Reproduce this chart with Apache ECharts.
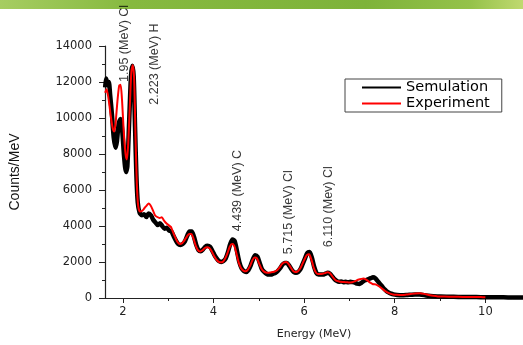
<!DOCTYPE html>
<html>
<head>
<meta charset="utf-8">
<script src="https://cdn.jsdelivr.net/npm/echarts@6/dist/echarts.min.js"></script>
<style>
  html, body { margin: 0; padding: 0; background: #fff; }
  #main { width: 523px; height: 345px; }
</style>
</head>
<body>
<div id="main"></div>
<script>
// simulation spectrum (black)
var simE = [1.61, 1.63, 1.66, 1.69, 1.72, 1.76, 1.80, 1.84, 1.87, 1.91, 1.95, 1.99, 2.03, 2.07, 2.10, 2.14, 2.18, 2.21, 2.24, 2.27, 2.30, 2.33, 2.37,
  2.42, 2.47, 2.52, 2.57, 2.62, 2.67, 2.72, 2.77, 2.82, 2.87, 2.92, 2.97, 3.02, 3.07, 3.12, 3.17, 3.22, 3.27, 3.32, 3.37, 3.42, 3.47,
  3.52, 3.57, 3.62, 3.67, 3.72, 3.77, 3.82, 3.87, 3.92, 3.97, 4.02, 4.07, 4.12, 4.17, 4.22, 4.27, 4.32, 4.37, 4.42, 4.47, 4.52, 4.57,
  4.62, 4.67, 4.72, 4.77, 4.82, 4.87, 4.92, 4.97, 5.02, 5.07, 5.12, 5.17, 5.22, 5.27, 5.32, 5.37, 5.42, 5.47, 5.52, 5.57, 5.62, 5.67,
  5.72, 5.77, 5.82, 5.87, 5.92, 5.97, 6.02, 6.07, 6.12, 6.17, 6.22, 6.27, 6.32, 6.37, 6.42, 6.47, 6.52, 6.57, 6.62, 6.67, 6.72, 6.77,
  6.82, 6.87, 6.92, 6.97, 7.02, 7.07, 7.12, 7.17, 7.22, 7.27, 7.32, 7.37, 7.42, 7.47, 7.52, 7.57, 7.62, 7.67, 7.72, 7.77, 7.82, 7.87,
  7.92, 7.97, 8.05, 8.15, 8.25, 8.35, 8.45, 8.55, 8.65, 8.75, 8.85, 9.0, 9.2, 9.4, 9.6, 9.8, 10.0, 10.2, 10.4, 10.6, 10.8, 10.9];
var simC = [11700, 12200, 11900, 12000, 11300, 10200, 8900, 8350, 8700, 9700, 9950, 9200, 7800, 7000, 7300, 9800, 12300, 12900, 12300, 9500, 6800, 5300, 4750,
  4600, 4650, 4500, 4700, 4600, 4350, 4200, 4050, 4150, 4000, 3850, 3900, 3750, 3700, 3450, 3200, 3000, 2950, 3000, 3150, 3450, 3700,
  3700, 3400, 2950, 2650, 2600, 2700, 2850, 2900, 2850, 2650, 2400, 2200, 2050, 2000, 2050, 2200, 2550, 3000, 3250, 3150, 2600, 2000,
  1650, 1500, 1450, 1550, 1800, 2150, 2380, 2300, 1950, 1600, 1450, 1350, 1300, 1300, 1350, 1400, 1500, 1650, 1850, 1950, 1950, 1800,
  1600, 1450, 1400, 1450, 1600, 1900, 2200, 2500, 2550, 2250, 1750, 1400, 1300, 1300, 1300, 1350, 1400, 1350, 1200, 1050, 950, 900,
  920, 880, 900, 870, 900, 880, 850, 800, 780, 850, 950, 1000, 1050, 1100, 1150, 1100, 950, 800, 650, 500, 380, 300,
  240, 200, 170, 150, 160, 180, 200, 190, 160, 120, 100, 80, 70, 60, 55, 50, 45, 40, 35, 30, 25, 25];

// experiment spectrum (red)
var expE = [1.61, 1.64, 1.67, 1.70, 1.74, 1.78, 1.81, 1.84, 1.88, 1.92, 1.95, 1.98, 2.02, 2.06, 2.09, 2.12, 2.16, 2.19, 2.22, 2.25, 2.28, 2.31, 2.34, 2.38,
  2.43, 2.48, 2.53, 2.57, 2.61, 2.66, 2.71, 2.76, 2.81, 2.86, 2.91, 2.96, 3.01, 3.06, 3.11, 3.16, 3.21, 3.26, 3.31, 3.36, 3.41, 3.46,
  3.51, 3.56, 3.61, 3.66, 3.71, 3.76, 3.81, 3.86, 3.91, 3.96, 4.01, 4.06, 4.11, 4.16, 4.21, 4.26, 4.31, 4.36, 4.41, 4.46, 4.51, 4.56,
  4.61, 4.66, 4.71, 4.76, 4.81, 4.86, 4.91, 4.96, 5.01, 5.06, 5.11, 5.16, 5.21, 5.26, 5.31, 5.36, 5.41, 5.46, 5.51, 5.56, 5.61, 5.66,
  5.71, 5.76, 5.81, 5.86, 5.91, 5.96, 6.01, 6.06, 6.11, 6.16, 6.21, 6.26, 6.31, 6.36, 6.41, 6.46, 6.51, 6.56, 6.61, 6.66, 6.71, 6.76,
  6.81, 6.86, 6.91, 6.96, 7.01, 7.06, 7.11, 7.16, 7.21, 7.26, 7.31, 7.36, 7.41, 7.46, 7.51, 7.56, 7.61, 7.66, 7.71, 7.76, 7.81, 7.86,
  7.91, 7.96, 8.05, 8.15, 8.25, 8.35, 8.45, 8.55, 8.65, 8.75, 8.85, 8.95, 9.1, 9.3, 9.5, 9.7, 9.9, 10.0];
var expC = [11400, 11600, 11300, 10800, 10000, 9400, 9250, 9700, 10900, 11800, 11850, 11100, 9300, 8000, 7700, 8600, 11000, 12600, 12950, 12200, 9000, 6300, 5100, 4800,
  4850, 5000, 5150, 5250, 5150, 4900, 4600, 4500, 4450, 4480, 4300, 4150, 4050, 3950, 3650, 3350, 3100, 3000, 3050, 3200, 3400, 3550,
  3550, 3300, 2900, 2650, 2580, 2650, 2780, 2820, 2780, 2600, 2350, 2150, 2020, 1980, 2020, 2200, 2500, 2850, 3000, 2900, 2450, 1950,
  1650, 1520, 1480, 1580, 1800, 2100, 2250, 2200, 1900, 1620, 1480, 1420, 1400, 1420, 1440, 1480, 1560, 1700, 1880, 1980, 2000, 1880,
  1680, 1500, 1440, 1480, 1620, 1880, 2150, 2380, 2430, 2150, 1700, 1420, 1330, 1330, 1350, 1380, 1430, 1400, 1250, 1080, 960, 930,
  900, 890, 880, 870, 860, 880, 920, 980, 1030, 1060, 1080, 1040, 950, 850, 780, 760, 720, 640, 540, 440, 350, 280,
  230, 200, 180, 170, 190, 220, 250, 260, 230, 170, 120, 90, 80, 70, 60, 55, 50, 45];

// peak annotations (anchor = bottom of the rotated text)
var annoText = ["1.95 (MeV) Cl", "2.223 (MeV) H", "4.439 (MeV) C", "5.715 (MeV) Cl", "6.110 (Mev) Cl"];
var annoE = [2.04, 2.70, 4.53, 5.65, 6.54];
var annoC = [12000, 10740, 3710, 2435, 2820];

var xLabels = [2, 4, 6, 8, 10];
var xMinor = [3, 5, 7, 9];

function pairs(xs, ys) {
  var out = [];
  for (var i = 0; i < xs.length; i++) out.push([xs[i], ys[i]]);
  return out;
}

var annoData = [];
for (var i = 0; i < annoText.length; i++) {
  annoData.push({ name: annoText[i], value: [annoE[i], annoC[i]] });
}

var myChart = echarts.init(document.getElementById("main"));
var tickFont = "DejaVu Sans";
var option = {
  animation: false,
  backgroundColor: "#fff",
  graphic: [
    {
      type: "rect",
      left: 0,
      top: 0,
      shape: { width: 523, height: 9 },
      style: {
        fill: new echarts.graphic.LinearGradient(0, 0, 1, 0, [
          { offset: 0, color: "#a6cd62" },
          { offset: 0.25, color: "#86b93f" },
          { offset: 0.7, color: "#7eb33a" },
          { offset: 0.9, color: "#95c24a" },
          { offset: 1, color: "#c0d970" },
        ]),
      },
      silent: true,
    },
  ],
  grid: { left: 101, right: 0, top: 46, bottom: 46 },
  legend: {
    orient: "vertical",
    left: 345,
    top: 79,
    itemWidth: 39,
    itemHeight: 14,
    itemGap: 1,
    padding: [1, 12, 1, 16],
    borderColor: "#444",
    borderWidth: 1,
    itemStyle: { color: "transparent", borderColor: "transparent", borderWidth: 0, opacity: 0 },
    textStyle: { fontFamily: tickFont, fontSize: 14.5, color: "#000" },
    data: ["Semulation", "Experiment"],
  },
  xAxis: [
    {
      type: "value",
      min: 1.607,
      max: 10.83,
      name: "Energy (MeV)",
      nameLocation: "middle",
      nameGap: 31,
      nameTextStyle: { fontFamily: tickFont, fontSize: 11, color: "#222" },
      axisLine: { lineStyle: { color: "#222", width: 1.2 } },
      axisTick: { length: 5, customValues: xLabels, lineStyle: { color: "#222" } },
      axisLabel: { customValues: xLabels, margin: 8, fontFamily: tickFont, fontSize: 11.5, color: "#222" },
      splitLine: { show: false },
    },
    {
      type: "value",
      position: "bottom",
      min: 1.607,
      max: 10.83,
      axisLine: { show: false },
      axisTick: { length: 3, customValues: xMinor, lineStyle: { color: "#222" } },
      axisLabel: { show: false },
      splitLine: { show: false },
    },
  ],
  yAxis: {
    type: "value",
    min: 0,
    max: 14000,
    interval: 2000,
    name: "Counts/MeV",
    nameLocation: "middle",
    nameGap: 83,
    nameTextStyle: { fontFamily: "Liberation Sans", fontSize: 14, color: "#111" },
    axisLine: { show: true, lineStyle: { color: "#222", width: 1.2 } },
    axisTick: { show: true, length: 6, lineStyle: { color: "#222" } },
    minorTick: { show: true, splitNumber: 2, length: 3, lineStyle: { color: "#222" } },
    axisLabel: {
      margin: 13,
      fontFamily: tickFont,
      fontSize: 11.5,
      color: "#222",
      formatter: function (v) { return String(v); },
    },
    splitLine: { show: false },
  },
  series: [
    {
      name: "Semulation",
      type: "line",
      data: pairs(simE, simC),
      symbol: "none",
      smooth: 0.25,
      color: "#000",
      lineStyle: { color: "#000", width: 4.5 },
      z: 2,
    },
    {
      name: "Experiment",
      type: "line",
      data: pairs(expE, expC),
      symbol: "none",
      smooth: 0.25,
      color: "#f00",
      lineStyle: { color: "#f00", width: 2 },
      z: 3,
    },
    {
      name: "labels",
      type: "scatter",
      data: annoData,
      symbolSize: 1,
      itemStyle: { color: "transparent" },
      label: {
        show: true,
        position: "inside",
        rotate: 90,
        align: "left",
        verticalAlign: "middle",
        formatter: "{b}",
        fontFamily: "Liberation Sans",
        fontSize: 12.5,
        color: "#000",
      },
      z: 4,
    },
  ],
};
myChart.setOption(option);
</script>
</body>
</html>
